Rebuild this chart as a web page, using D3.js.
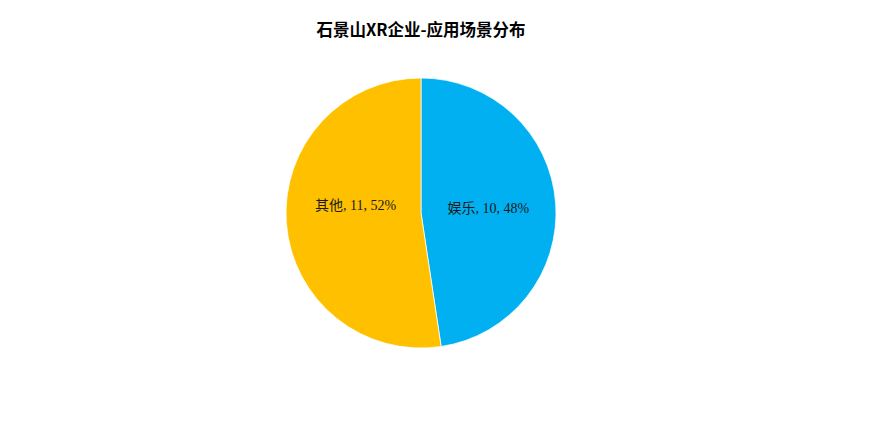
<!DOCTYPE html>
<html>
<head>
<meta charset="utf-8">
<script src="https://cdn.jsdelivr.net/npm/d3@7"></script>
<style>
    body { margin: 0; background: #fff; }
    #chart { width: 869px; height: 426px; }
</style>
</head>
<body>
<div id="chart"></div>
<script>
// Data
const categories = ["娱乐", "其他"];
const values = [10, 11];
const colors = ["#00B0F0", "#FFC000"];
const chartTitle = "石景山XR企业-应用场景分布";

// nudge Excel-style label placement a bit
const labelShift = { "娱乐": [0, 0], "其他": [2, -13] };

const width = 869;
const height = 426;
const cx = 421, cy = 213, radius = 135;

const svg = d3.select("#chart")
    .append("svg")
    .attr("width", width)
    .attr("height", height);

svg.append("text")
    .attr("x", 421)
    .attr("y", 36)
    .attr("text-anchor", "middle")
    .attr("font-family", "'Noto Sans CJK SC', 'Noto Sans', sans-serif")
    .attr("font-weight", "bold")
    .attr("font-size", 16.5)
    .attr("fill", "#000")
    .text(chartTitle);

const rows = categories.map((c, i) => ({ name: c, value: values[i], color: colors[i] }));
const total = d3.sum(values);

const pie = d3.pie()
    .sort(null)
    .value(d => d.value);

const arc = d3.arc()
    .innerRadius(0)
    .outerRadius(radius);

const g = svg.append("g")
    .attr("transform", `translate(${cx},${cy})`);

const arcs = pie(rows);

g.selectAll(".slice")
    .data(arcs)
    .enter()
    .append("path")
    .attr("class", "slice")
    .attr("d", arc)
    .attr("fill", d => d.data.color)
    .attr("stroke", "#fff")
    .attr("stroke-width", 0.75);

g.selectAll(".label")
    .data(arcs)
    .enter()
    .append("text")
    .attr("class", "label")
    .attr("transform", d => {
        const [x, y] = arc.centroid(d);
        const s = labelShift[d.data.name] || [0, 0];
        return `translate(${x + s[0]},${y + s[1]})`;
    })
    .attr("text-anchor", "middle")
    .attr("dy", "0.35em")
    .attr("font-family", "'Liberation Serif', 'Times New Roman', 'Noto Sans CJK SC', serif")
    .attr("font-size", 14)
    .attr("fill", "#1a1a1a")
    .text(d => `${d.data.name}, ${d.data.value}, ${Math.round(d.data.value / total * 100)}%`);
</script>
</body>
</html>
